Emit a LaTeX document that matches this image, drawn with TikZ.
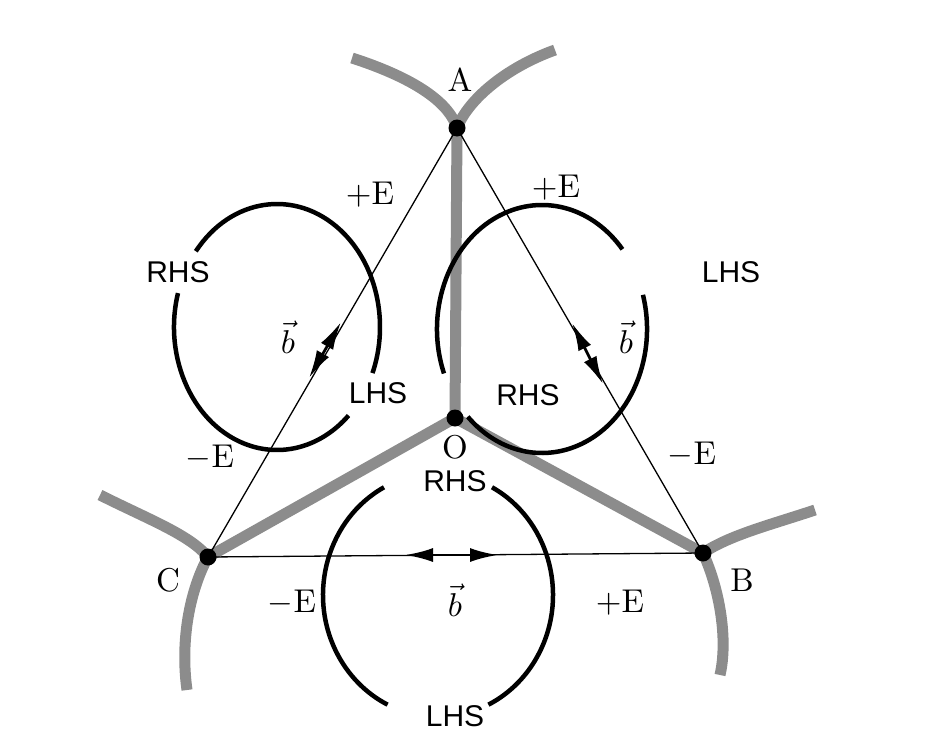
\documentclass[tikz,border=0pt]{standalone}
\usepackage{fontspec}
\newfontfamily\hel{Liberation Sans}
\usetikzlibrary{arrows.meta}
\begin{document}
\begin{tikzpicture}[x=1pt,y=-1pt,
  grayline/.style={line width=11pt,draw=black!45,line cap=butt},
  loop/.style={line width=4.5pt,draw=black},
  thin/.style={line width=1.3pt},
  dbl/.style={line width=2.8pt,{Latex[length=28pt,width=14pt]}-{Latex[length=28pt,width=14pt]}},
  dot/.style={circle,fill=black,inner sep=0pt,minimum size=17pt},
  lab/.style={scale=3.3},
  side/.style={font=\hel\fontsize{30}{30}\selectfont}]
\useasboundingbox (0,0) rectangle (928,744);
\coordinate (A) at (457,128);
\coordinate (O) at (455,418);
\coordinate (C) at (208,557);
\coordinate (B) at (703,553);
% gray
\draw[grayline] (A) -- (O) -- (C);
\draw[grayline] (O) -- (B);
\draw[grayline] (352,58) .. controls (420,80) and (450,105) .. (A) .. controls (468,100) and (505,68) .. (555,50);
\draw[grayline] (100,495) .. controls (150,520) and (190,535) .. (C) .. controls (190,590) and (180,640) .. (187,690);
\draw[grayline] (815,510) .. controls (770,525) and (730,535) .. (B) .. controls (720,590) and (728,640) .. (720,675);
% triangle
\draw[thin] (A) -- (B) -- (C) -- cycle;
% loops (angles negated because y points down)
\draw[loop] (277,327) ++(-142:103 and 123) arc[start angle=-142,end angle=22,x radius=103,y radius=123];
\draw[loop] (277,327) ++(-164:103 and 123) arc[start angle=-164,end angle=-314,x radius=103,y radius=123];
\draw[loop] (542,329) ++(-201:105 and 124) arc[start angle=-201,end angle=-40,x radius=105,y radius=124];
\draw[loop] (542,329) ++(-16:105 and 124) arc[start angle=-16,end angle=135,x radius=105,y radius=124];
\draw[loop] (438,595) ++(-118:115 and 122) arc[start angle=-118,end angle=-244,x radius=115,y radius=122];
\draw[loop] (438,595) ++(-62:115 and 122) arc[start angle=-62,end angle=64,x radius=115,y radius=122];
% arrows
\draw[dbl] (309,378) -- (341,322);
\draw[dbl] (572,323) -- (603,384);
\draw[dbl] (405,555) -- (498,555);
% dots
\foreach \p in {A,O,C,B} \node[dot] (d\p) at (\p) {};
% labels
\node[lab] (lA) at (460,80) {A};
\node[lab] (lO) at (455,447) {O};
\node[lab] (lC) at (168,580) {C};
\node[lab] (lB) at (742,580) {B};
\node[lab] (e1) at (370,195) {+E};
\node[lab] (e2) at (556,188) {+E};
\node[lab] (e3) at (210,458) {$-$E};
\node[lab] (e4) at (692,455) {$-$E};
\node[lab] (e5) at (292,603) {$-$E};
\node[lab] (e6) at (620,603) {+E};
\node[lab] (b1) at (288,337) {$\vec b$};
\node[lab] (b2) at (626,337) {$\vec b$};
\node[lab] (b3) at (455,600) {$\vec b$};
\node[side] (s1) at (178,272) {RHS};
\node[side] (s2) at (378,393) {LHS};
\node[side] (s3) at (528,395) {RHS};
\node[side] (s4) at (731,272) {LHS};
\node[side] (s5) at (455,481) {RHS};
\node[side] (s6) at (455,716) {LHS};
\end{tikzpicture}
\end{document}
